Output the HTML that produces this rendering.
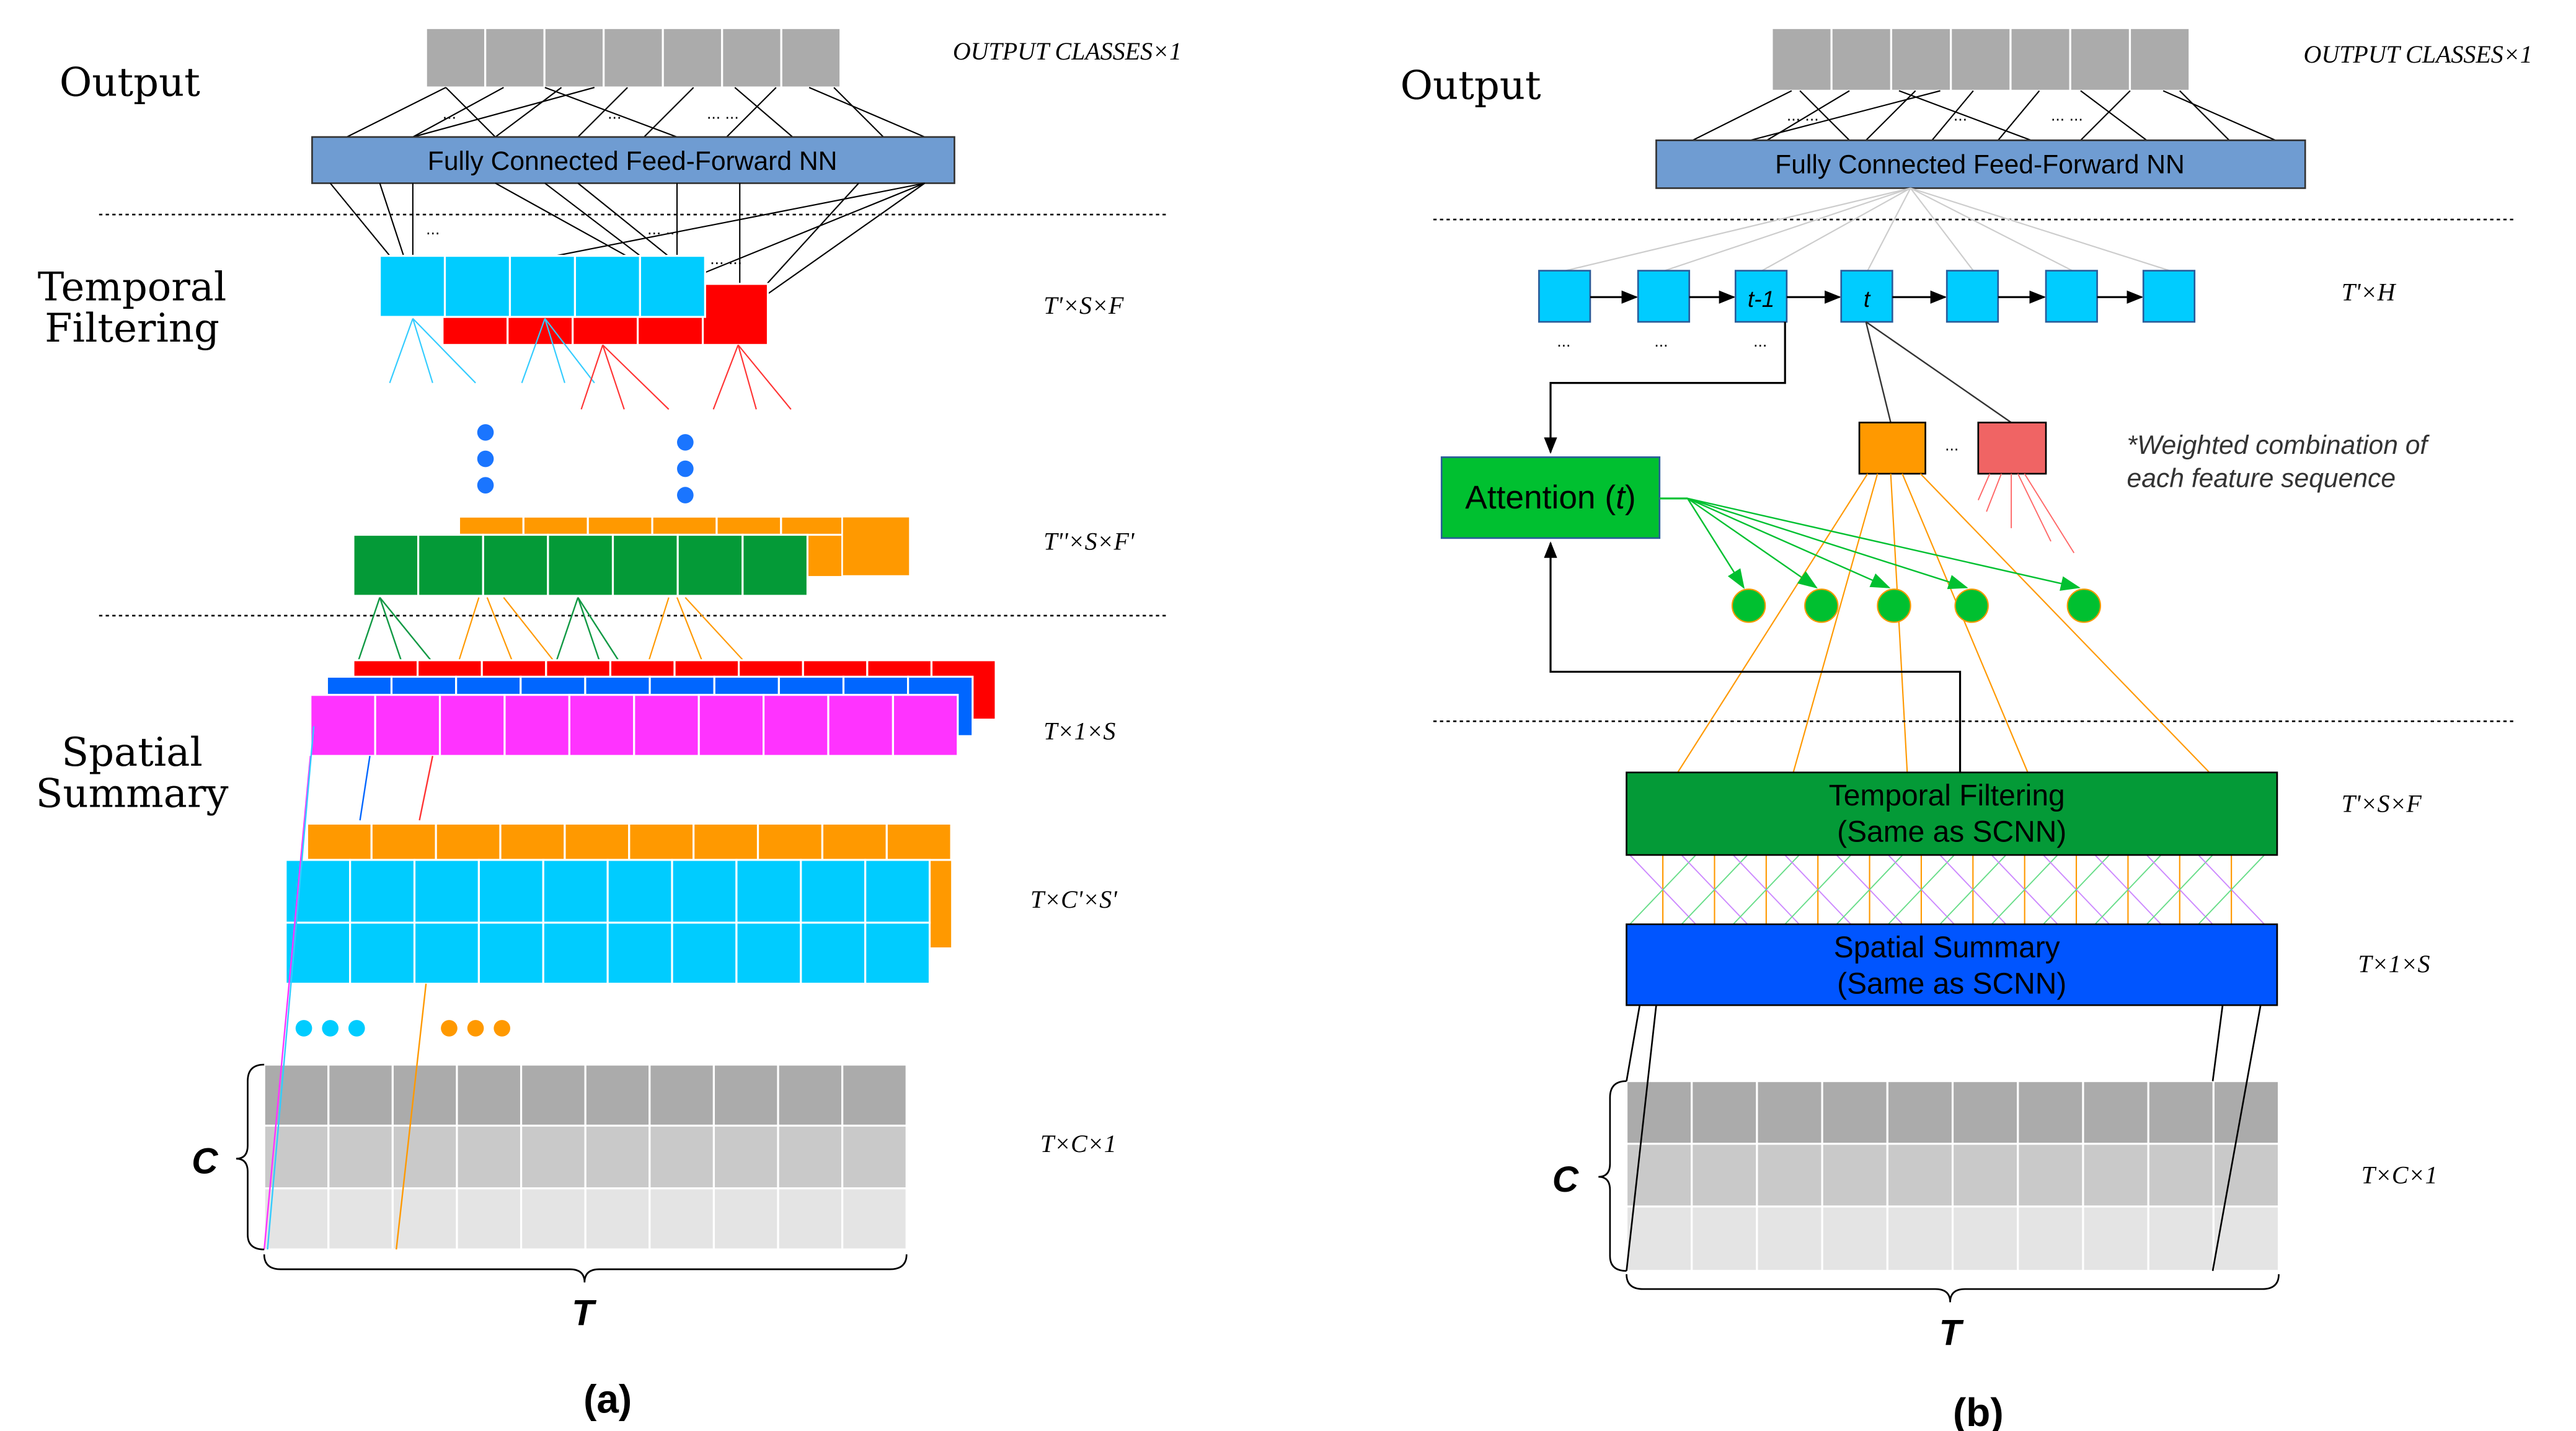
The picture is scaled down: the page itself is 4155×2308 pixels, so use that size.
<!DOCTYPE html>
<html><head><meta charset="utf-8">
<style>
html,body{margin:0;padding:0;background:#fff;}
svg{display:block;}
.serif{font-family:"Liberation Serif",serif;}
.dserif{font-family:"DejaVu Serif","Liberation Serif",serif;}
.sans{font-family:"Liberation Sans",sans-serif;}
</style></head>
<body>
<svg id="fig" width="4155" height="2308" viewBox="0 0 1560 867" preserveAspectRatio="none" xmlns="http://www.w3.org/2000/svg">
<g id="panelA"></g>
<g id="panelB"></g>
</svg>
<script>
const NS="http://www.w3.org/2000/svg";
function mk(parent,tag,attrs,name,text){
  const e=document.createElementNS(NS,tag);
  for(const k in attrs)e.setAttribute(k,attrs[k]);
  
  
  if(text!==undefined)e.textContent=text;
  parent.appendChild(e);return e;
}
function row(p,x,y,w,h,n,fill,name,stroke){
  const cw=w/n;
  for(let i=0;i<n;i++){
    mk(p,'rect',{x:x+i*cw,y:y,width:cw,height:h,fill:fill,stroke:stroke||'#fff','stroke-width':1.2},name);
  }
}
function ln(p,x1,y1,x2,y2,c,w,name,dash){
  const a={x1,y1,x2,y2,stroke:c,'stroke-width':w||0.8};
  if(dash)a['stroke-dasharray']=dash;
  return mk(p,'line',a,name);
}
function txt(p,x,y,s,cls,size,name,extra){
  const a={x,y,'class':cls,'font-size':size,fill:'#000'};
  Object.assign(a,extra||{});
  return mk(p,'text',a,name,s);
}
function brace(p,pts,name){mk(p,'path',{d:pts,fill:'none',stroke:'#000','stroke-width':1},name);}

const defs=mk(document.getElementById('fig'),'defs',{},'defs');
const m1=mk(defs,'marker',{id:'ab',markerWidth:10,markerHeight:8,refX:9,refY:4,orient:'auto',markerUnits:'userSpaceOnUse'},'arrow-black');
mk(m1,'path',{d:'M0,0 L10,4 L0,8 Z',fill:'#000'},'arrow-head');
const m2=mk(defs,'marker',{id:'ag',markerWidth:12,markerHeight:9,refX:11,refY:4.5,orient:'auto',markerUnits:'userSpaceOnUse'},'arrow-green');
mk(m2,'path',{d:'M0,0 L12,4.5 L0,9 Z',fill:'#00c030'},'arrow-head');

/* ---------------- PANEL A ---------------- */
const A=document.getElementById('panelA');
txt(A,36,58,'Output','dserif',24,'output-label-a');
row(A,258,17,251,36,7,'#ababab','output-class-cell');
txt(A,577,36,'OUTPUT CLASSES\u00d71','serif',15,'output-dim-a',{'font-style':'italic'});
[[270,53,210,83],[270,53,300,83],[305,53,250,83],[340,53,300,83],[380,53,350,83],[420,53,390,83],[445,53,480,83],[470,53,440,83],[490,53,560,83],[505,53,535,83],[330,53,410,83],[360,53,250,83]].forEach(l=>ln(A,...l,'#000',0.8,'fc-input-line'));
txt(A,268,72,'...','sans',10,'ellipsis');txt(A,368,72,'...','sans',10,'ellipsis');txt(A,428,72,'... ...','sans',10,'ellipsis');
mk(A,'rect',{x:189,y:83,width:389,height:28,fill:'#6f9cd2',stroke:'#333','stroke-width':1},'fc-layer-a');
txt(A,383,103,'Fully Connected Feed-Forward NN','sans',16,'fc-label-a',{'text-anchor':'middle'});
ln(A,60,130,707,130,'#000',1,'divider-a1','2,2');
[[200,111,250,172],[230,111,250,172],[250,111,250,172],[300,111,410,172],[330,111,410,172],[410,111,410,172],[448,111,448,190],[560,111,250,172],[560,111,410,172],[560,111,448,190],[520,111,448,190],[350,111,448,190]].forEach(l=>ln(A,...l,'#000',0.8,'fc-output-line'));
txt(A,258,142,'...','sans',10,'ellipsis');txt(A,392,142,'... ...','sans',10,'ellipsis');txt(A,430,160,'... ...','sans',10,'ellipsis');
txt(A,80,182,'Temporal','dserif',24,'temporal-filtering-label-a',{'text-anchor':'middle'});
txt(A,80,207,'Filtering','dserif',24,'temporal-filtering-label-a2',{'text-anchor':'middle'});
row(A,268,172,197,37,5,'#ff0000','temporal-red-cell');
row(A,230,155,197,37,5,'#00ccff','temporal-cyan-cell');
txt(A,632,190,"T'\u00d7S\u00d7F",'serif',15,'dim-temporal-a',{'font-style':'italic'});
[[250,193,236,232],[250,193,262,232],[250,193,288,232],[330,193,316,232],[330,193,342,232],[330,193,360,232]].forEach(l=>ln(A,...l,'#33ccff',0.8,'filter-cyan-line'));
[[365,209,352,248],[365,209,378,248],[365,209,405,248],[447,209,432,248],[447,209,458,248],[447,209,479,248]].forEach(l=>ln(A,...l,'#ff3333',0.8,'filter-red-line'));
[[294,262],[294,278],[294,294],[415,268],[415,284],[415,300]].forEach(c=>mk(A,'circle',{cx:c[0],cy:c[1],r:5,fill:'#1a75ff'},'continuation-dot'));
mk(A,'rect',{x:278,y:313,width:273,height:36,fill:'#ff9900'},'orange-layer-bg');
row(A,278,313,273,11,7,'#ff9900','temporal2-orange-cell');
mk(A,'rect',{x:510,y:313,width:41,height:36,fill:'#ff9900',stroke:'#fff'},'temporal2-orange-cell');
row(A,214,324,275,37,7,'#049a37','temporal2-green-cell');
txt(A,632,333,"T''\u00d7S\u00d7F'",'serif',15,'dim-temporal2-a',{'font-style':'italic'});
ln(A,60,373,707,373,'#000',1,'divider-a2','2,2');
[[230,362,210,421],[230,362,250,421],[230,362,278,421],[350,362,330,421],[350,362,370,421],[350,362,388,421]].forEach(l=>ln(A,...l,'#119944',0.9,'summary-green-line'));
[[290,362,278,400],[295,362,310,400],[305,362,335,400],[405,362,393,400],[410,362,425,400],[415,362,450,400]].forEach(l=>ln(A,...l,'#ff9900',0.8,'summary-orange-line'));
row(A,214,400,389,36,10,'#ff0000','summary-red-cell');
row(A,198,410,391,36,10,'#0066ff','summary-blue-cell');
row(A,188,421,392,37,10,'#ff33ff','summary-magenta-cell');
txt(A,632,448,'T\u00d71\u00d7S','serif',15,'dim-summary-a',{'font-style':'italic'});
txt(A,80,464,'Spatial','dserif',24,'spatial-summary-label-a',{'text-anchor':'middle'});
txt(A,80,489,'Summary','dserif',24,'spatial-summary-label-a2',{'text-anchor':'middle'});
mk(A,'rect',{x:186,y:499,width:390,height:75,fill:'#ff9900'},'spatial-orange-bg');
row(A,186,499,390,22,10,'#ff9900','spatial-orange-cell');
row(A,173,521,390,38,10,'#00ccff','spatial-cyan-cell');
row(A,173,559,390,37,10,'#00ccff','spatial-cyan-cell');
txt(A,624,550,"T\u00d7C'\u00d7S'",'serif',15,'dim-spatial-a',{'font-style':'italic'});
[[184,623],[200,623],[216,623]].forEach(c=>mk(A,'circle',{cx:c[0],cy:c[1],r:5,fill:'#00ccff'},'cyan-dot'));
[[272,623],[288,623],[304,623]].forEach(c=>mk(A,'circle',{cx:c[0],cy:c[1],r:5,fill:'#ff9900'},'orange-dot'));
row(A,160,645,389,37,10,'#ababab','input-cell-row1');
row(A,160,682,389,38,10,'#c9c9c9','input-cell-row2');
row(A,160,720,389,37,10,'#e4e4e4','input-cell-row3');
ln(A,188,458,160,757,'#ff33ff',0.9,'magenta-projection');
ln(A,190,440,162,757,'#33ccff',0.9,'cyan-projection');
ln(A,224,458,218,497,'#0066ff',0.9,'blue-projection');
ln(A,262,458,254,497,'#ff3333',0.9,'red-projection');
ln(A,258,596,240,757,'#ff9900',0.9,'orange-projection');
txt(A,630,698,'T\u00d7C\u00d71','serif',15,'dim-input-a',{'font-style':'italic'});
brace(A,'M160,645 Q150,645 150,655 L150,694 Q150,702 143,702 Q150,702 150,710 L150,748 Q150,757 160,757','brace-c-a');
txt(A,124,711,'C','sans',22,'label-c-a',{'text-anchor':'middle','font-weight':'bold','font-style':'italic'});
brace(A,'M160,760 Q160,769 170,769 L345,769 Q354,769 354,777 Q354,769 363,769 L539,769 Q549,769 549,760','brace-t-a');
txt(A,353,803,'T','sans',22,'label-t-a',{'text-anchor':'middle','font-weight':'bold','font-style':'italic'});
txt(A,368,856,'(a)','sans',24,'caption-a',{'text-anchor':'middle','font-weight':'bold'});

/* ---------------- PANEL B ---------------- */
const B=document.getElementById('panelB');
txt(B,848,60,'Output','dserif',24,'output-label-b');
row(B,1073,17,253,38,7,'#ababab','output-class-cell');
txt(B,1395,38,'OUTPUT CLASSES\u00d71','serif',15,'output-dim-b',{'font-style':'italic'});
[[1085,55,1025,85],[1090,55,1120,85],[1120,55,1070,85],[1160,55,1130,85],[1195,55,1170,85],[1235,55,1210,85],[1260,55,1300,85],[1290,55,1260,85],[1310,55,1378,85],[1320,55,1350,85],[1150,55,1230,85],[1175,55,1060,85]].forEach(l=>ln(B,...l,'#000',0.8,'fc-input-line'));
txt(B,1082,73,'... ...','sans',10,'ellipsis');txt(B,1183,73,'...','sans',10,'ellipsis');txt(B,1242,73,'... ...','sans',10,'ellipsis');
mk(B,'rect',{x:1003,y:85,width:393,height:29,fill:'#6f9cd2',stroke:'#333','stroke-width':1},'fc-layer-b');
txt(B,1199,105,'Fully Connected Feed-Forward NN','sans',16,'fc-label-b',{'text-anchor':'middle'});
ln(B,868,133,1523,133,'#000',1,'divider-b1','2,2');
const rnnX=[932,992,1051,1115,1179,1239,1298];
const rnnLbl=['','','t-1','t','','',''];
rnnX.forEach((x,i)=>{
  ln(B,1157,114,x+16,164,'#cccccc',0.8,'fc-rnn-line');
});
rnnX.forEach((x,i)=>{
  mk(B,'rect',{x:x,y:164,width:31,height:31,fill:'#00ccff',stroke:'#2a5c9a','stroke-width':1},'rnn-cell');
  if(rnnLbl[i])txt(B,x+15.5,186,rnnLbl[i],'sans',14,'rnn-cell-label',{'text-anchor':'middle','font-style':'italic'});
  if(i<6)mk(B,'line',{x1:x+31,y1:180,x2:rnnX[i+1]-1,y2:180,stroke:'#000','stroke-width':1.2,'marker-end':'url(#ab)'},'rnn-arrow');
});
[947,1006,1066].forEach(x=>txt(B,x,210,'...','sans',10,'ellipsis',{'text-anchor':'middle'}));
txt(B,1418,182,"T'\u00d7H",'serif',15,'dim-rnn-b',{'font-style':'italic'});
mk(B,'path',{d:'M1081,195 L1081,232 L939,232 L939,274',fill:'none',stroke:'#000','stroke-width':1.2,'marker-end':'url(#ab)'},'hidden-to-attention-arrow');
mk(B,'rect',{x:873,y:277,width:132,height:49,fill:'#00c030',stroke:'#2a5c9a','stroke-width':1},'attention-box');
mk(B,'text',{x:939,y:308,'class':'sans','font-size':20,'text-anchor':'middle',fill:'#000'},'attention-label').innerHTML='Attention (<tspan font-style="italic">t</tspan>)';
ln(B,1130,195,1145,256,'#333',0.9,'t-to-feature-line');
ln(B,1130,195,1218,256,'#333',0.9,'t-to-feature-line');
mk(B,'rect',{x:1126,y:256,width:40,height:31,fill:'#ff9900',stroke:'#000','stroke-width':1},'feature-orange');
txt(B,1182,273,'...','sans',10,'ellipsis',{'text-anchor':'middle'});
mk(B,'rect',{x:1198,y:256,width:41,height:31,fill:'#f06464',stroke:'#000','stroke-width':1},'feature-red');
[[1205,287,1198,303],[1212,287,1203,310],[1218,287,1218,320],[1222,287,1242,328],[1226,287,1256,335]].forEach(l=>ln(B,...l,'#ff6666',0.7,'feature-red-line'));
txt(B,1288,275,'*Weighted combination of','sans',16,'note-line1',{'font-style':'italic',fill:'#333'});
txt(B,1288,295,'each feature sequence','sans',16,'note-line2',{'font-style':'italic',fill:'#333'});
[[1131,287,1016,468],[1137,287,1086,468],[1145,287,1155,468],[1152,287,1228,468],[1163,287,1338,468]].forEach(l=>ln(B,...l,'#ff9900',0.8,'orange-weight-line'));
const circ=[1059,1103,1147,1194,1262];
circ.forEach(cx=>mk(B,'line',{x1:1022,y1:302,x2:cx-3,y2:356,stroke:'#00c030','stroke-width':0.9,'marker-end':'url(#ag)'},'attention-weight-arrow'));
ln(B,1005,302,1022,302,'#00c030',1.2,'attention-out-line');
circ.forEach(cx=>mk(B,'ellipse',{cx:cx,cy:367,rx:10,ry:10,fill:'#00c030',stroke:'#ff9900','stroke-width':0.8},'attention-weight-node'));
mk(B,'path',{d:'M1187,468 L1187,407 L939,407 L939,329',fill:'none',stroke:'#000','stroke-width':1.2,'marker-end':'url(#ab)'},'features-to-attention-arrow');
ln(B,868,437,1523,437,'#000',1,'divider-b2','2,2');
for(let i=0;i<12;i++){
  const x=987+i*31.3;
  ln(B,x+20,518,x+20,560,'#ff9900',0.8,'orange-vertical-line');
  ln(B,x,518,x+40,560,'#cc88ff',0.7,'purple-cross-line');
  ln(B,x+40,518,x,560,'#66dd88',0.7,'green-cross-line');
}
mk(B,'rect',{x:985,y:468,width:394,height:50,fill:'#049a37',stroke:'#000','stroke-width':1},'temporal-filtering-box');
txt(B,1179,488,'Temporal Filtering','sans',18,'temporal-filtering-label-b',{'text-anchor':'middle'});
txt(B,1182,510,'(Same as SCNN)','sans',18,'temporal-filtering-sub-b',{'text-anchor':'middle'});
txt(B,1418,492,"T'\u00d7S\u00d7F",'serif',15,'dim-temporal-b',{'font-style':'italic'});
mk(B,'rect',{x:985,y:560,width:394,height:49,fill:'#0055ff',stroke:'#000','stroke-width':1},'spatial-summary-box');
txt(B,1179,580,'Spatial Summary','sans',18,'spatial-summary-label-b',{'text-anchor':'middle'});
txt(B,1182,602,'(Same as SCNN)','sans',18,'spatial-summary-sub-b',{'text-anchor':'middle'});
txt(B,1428,589,'T\u00d71\u00d7S','serif',15,'dim-summary-b',{'font-style':'italic'});
row(B,985,655,395,38,10,'#ababab','input-cell-row1');
row(B,985,693,395,38,10,'#c9c9c9','input-cell-row2');
row(B,985,731,395,39,10,'#e4e4e4','input-cell-row3');
ln(B,993,609,985,655,'#000',1,'summary-to-input-line');
ln(B,1003,609,985,770,'#000',1,'summary-to-input-line');
ln(B,1346,609,1340,655,'#000',1,'summary-to-input-line');
ln(B,1369,609,1340,770,'#000',1,'summary-to-input-line');
txt(B,1430,717,'T\u00d7C\u00d71','serif',15,'dim-input-b',{'font-style':'italic'});
brace(B,'M985,655 Q975,655 975,665 L975,705 Q975,713 968,713 Q975,713 975,721 L975,761 Q975,770 985,770','brace-c-b');
txt(B,948,722,'C','sans',22,'label-c-b',{'text-anchor':'middle','font-weight':'bold','font-style':'italic'});
brace(B,'M985,772 Q985,781 995,781 L1172,781 Q1181,781 1181,789 Q1181,781 1190,781 L1370,781 Q1380,781 1380,772','brace-t-b');
txt(B,1181,815,'T','sans',22,'label-t-b',{'text-anchor':'middle','font-weight':'bold','font-style':'italic'});
txt(B,1198,864,'(b)','sans',24,'caption-b',{'text-anchor':'middle','font-weight':'bold'});
</script>
</body></html>
